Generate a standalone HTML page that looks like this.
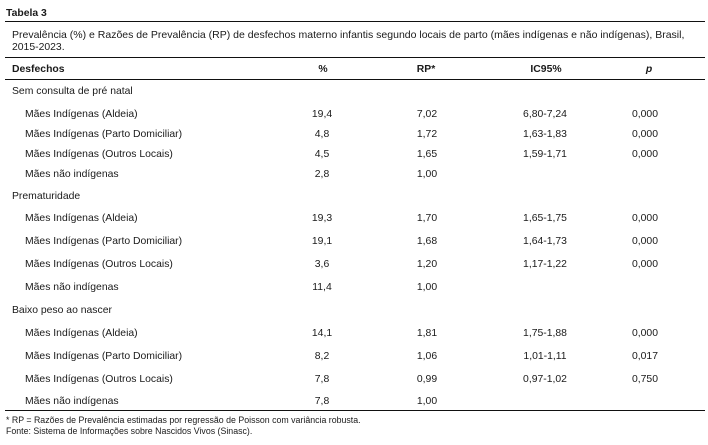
<!DOCTYPE html>
<html><head><meta charset="utf-8"><style>
body{margin:0;width:708px;height:445px;background:#fff;position:relative;font-family:"Liberation Sans",sans-serif;color:#1a1a1a;overflow:hidden}
.t{position:absolute;white-space:nowrap;font-size:10.4px;line-height:12px;transform:translateY(-6px)}
.b{font-weight:bold}
.l{position:absolute;left:5px;width:700px;height:1.3px;background:#111}
.c{transform:translate(-50%,-6px)}
</style></head><body>
<div class="t b" style="left:6px;top:14px;font-size:10.4px">Tabela 3</div>
<div class="l" style="top:21px"></div>
<div class="t" style="left:12px;top:35px;font-size:10.5px">Prevalência (%) e Razões de Prevalência (RP) de desfechos materno infantis segundo locais de parto (mães indígenas e não indígenas), Brasil,</div>
<div class="t" style="left:12px;top:48px">2015-2023.</div>
<div class="l" style="top:57px"></div>
<div class="t b" style="left:12px;top:70px">Desfechos</div>
<div class="t b c" style="left:323px;top:70px">%</div>
<div class="t b c" style="left:426px;top:70px">RP*</div>
<div class="t b c" style="left:546px;top:70px">IC95%</div>
<div class="t b c" style="left:649px;top:70px;font-style:italic">p</div>
<div class="l" style="top:79px"></div>

<div class="t" style="left:12px;top:92px">Sem consulta de pré natal</div>
<div class="t" style="left:25px;top:115px">Mães Indígenas (Aldeia)</div>
<div class="t c" style="left:322px;top:115px">19,4</div><div class="t c" style="left:427px;top:115px">7,02</div><div class="t c" style="left:545px;top:115px">6,80-7,24</div><div class="t c" style="left:645px;top:115px">0,000</div>
<div class="t" style="left:25px;top:135px">Mães Indígenas (Parto Domiciliar)</div>
<div class="t c" style="left:322px;top:135px">4,8</div><div class="t c" style="left:427px;top:135px">1,72</div><div class="t c" style="left:545px;top:135px">1,63-1,83</div><div class="t c" style="left:645px;top:135px">0,000</div>
<div class="t" style="left:25px;top:155px">Mães Indígenas (Outros Locais)</div>
<div class="t c" style="left:322px;top:155px">4,5</div><div class="t c" style="left:427px;top:155px">1,65</div><div class="t c" style="left:545px;top:155px">1,59-1,71</div><div class="t c" style="left:645px;top:155px">0,000</div>
<div class="t" style="left:25px;top:175px">Mães não indígenas</div>
<div class="t c" style="left:322px;top:175px">2,8</div><div class="t c" style="left:427px;top:175px">1,00</div>

<div class="t" style="left:12px;top:197px">Prematuridade</div>
<div class="t" style="left:25px;top:219px">Mães Indígenas (Aldeia)</div>
<div class="t c" style="left:322px;top:219px">19,3</div><div class="t c" style="left:427px;top:219px">1,70</div><div class="t c" style="left:545px;top:219px">1,65-1,75</div><div class="t c" style="left:645px;top:219px">0,000</div>
<div class="t" style="left:25px;top:242px">Mães Indígenas (Parto Domiciliar)</div>
<div class="t c" style="left:322px;top:242px">19,1</div><div class="t c" style="left:427px;top:242px">1,68</div><div class="t c" style="left:545px;top:242px">1,64-1,73</div><div class="t c" style="left:645px;top:242px">0,000</div>
<div class="t" style="left:25px;top:265px">Mães Indígenas (Outros Locais)</div>
<div class="t c" style="left:322px;top:265px">3,6</div><div class="t c" style="left:427px;top:265px">1,20</div><div class="t c" style="left:545px;top:265px">1,17-1,22</div><div class="t c" style="left:645px;top:265px">0,000</div>
<div class="t" style="left:25px;top:288px">Mães não indígenas</div>
<div class="t c" style="left:322px;top:288px">11,4</div><div class="t c" style="left:427px;top:288px">1,00</div>

<div class="t" style="left:12px;top:311px">Baixo peso ao nascer</div>
<div class="t" style="left:25px;top:334px">Mães Indígenas (Aldeia)</div>
<div class="t c" style="left:322px;top:334px">14,1</div><div class="t c" style="left:427px;top:334px">1,81</div><div class="t c" style="left:545px;top:334px">1,75-1,88</div><div class="t c" style="left:645px;top:334px">0,000</div>
<div class="t" style="left:25px;top:357px">Mães Indígenas (Parto Domiciliar)</div>
<div class="t c" style="left:322px;top:357px">8,2</div><div class="t c" style="left:427px;top:357px">1,06</div><div class="t c" style="left:545px;top:357px">1,01-1,11</div><div class="t c" style="left:645px;top:357px">0,017</div>
<div class="t" style="left:25px;top:380px">Mães Indígenas (Outros Locais)</div>
<div class="t c" style="left:322px;top:380px">7,8</div><div class="t c" style="left:427px;top:380px">0,99</div><div class="t c" style="left:545px;top:380px">0,97-1,02</div><div class="t c" style="left:645px;top:380px">0,750</div>
<div class="t" style="left:25px;top:402px">Mães não indígenas</div>
<div class="t c" style="left:322px;top:402px">7,8</div><div class="t c" style="left:427px;top:402px">1,00</div>
<div class="l" style="top:410px"></div>
<div class="t" style="left:6px;top:420px;font-size:8.8px">* RP = Razões de Prevalência estimadas por regressão de Poisson com variância robusta.</div>
<div class="t" style="left:6px;top:431px;font-size:8.8px">Fonte: Sistema de Informações sobre Nascidos Vivos (Sinasc).</div>
</body></html>
